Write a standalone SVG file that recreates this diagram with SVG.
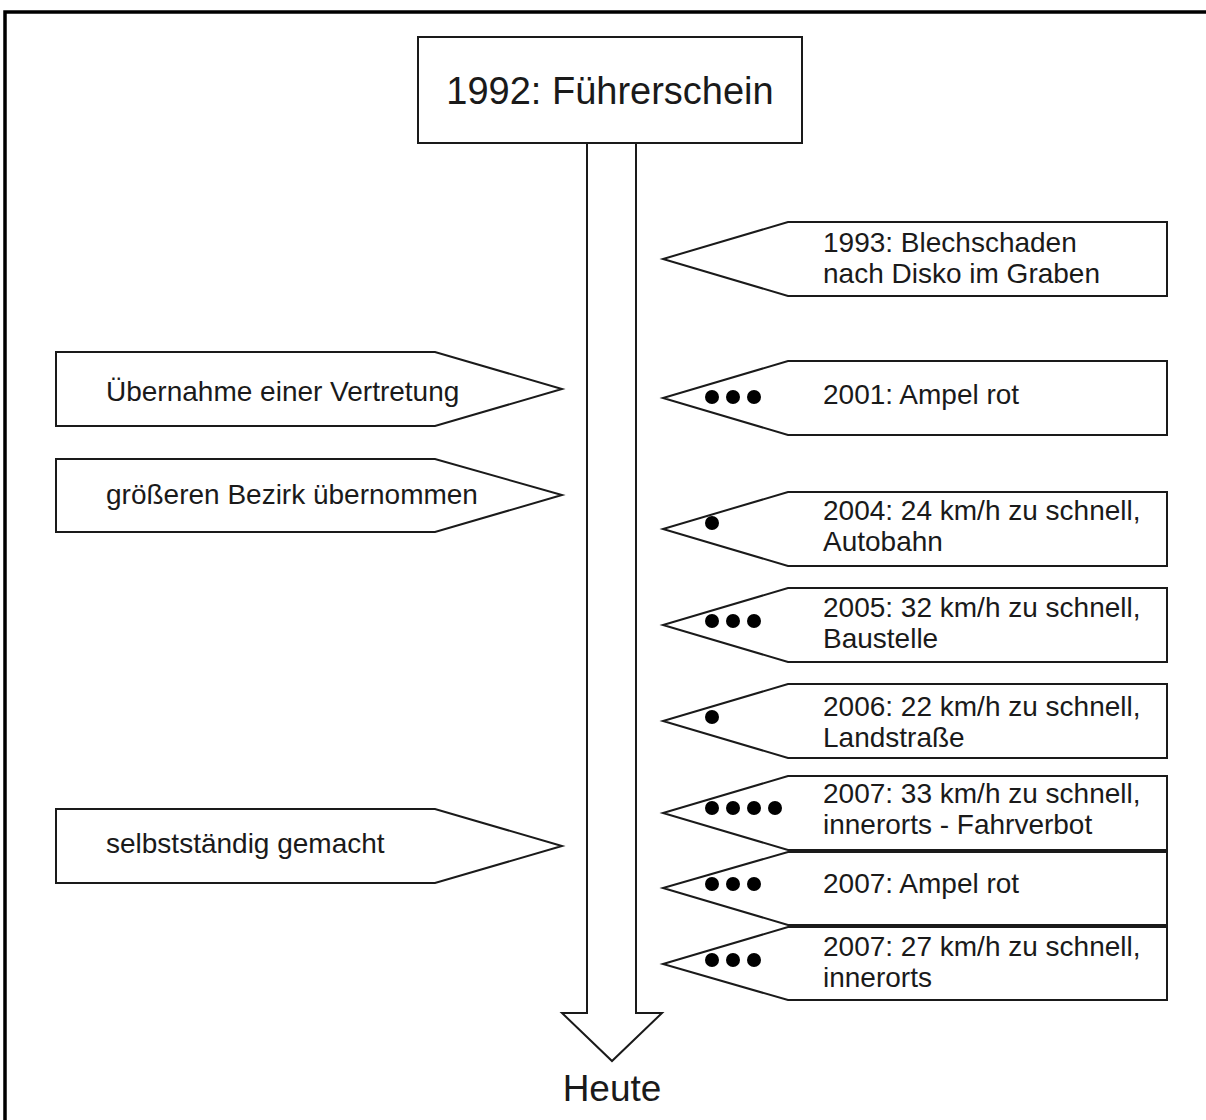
<svg xmlns="http://www.w3.org/2000/svg" width="1206" height="1120" viewBox="0 0 1206 1120">
<style>
.s{fill:#fff;stroke:#1a1a1a;stroke-width:2}
.t{font-family:"Liberation Sans",Arial,sans-serif;font-size:28px;fill:#1a1a1a}
.d{fill:#000}
</style>
<rect x="0" y="0" width="1206" height="1120" fill="#fff"/>
<rect x="5" y="12" width="1215" height="1130" fill="none" stroke="#000" stroke-width="3.5"/>
<g id="timeline">
<path class="s" d="M587,143 L587,1013 L562,1013 L612,1061 L662,1013 L636,1013 L636,143"/>
<text x="612" y="1101" text-anchor="middle" class="t" style="font-size:37px">Heute</text>
</g>
<g id="start">
<rect class="s" x="418" y="37" width="384" height="106"/>
<text x="610" y="104" text-anchor="middle" class="t" style="font-size:38px">1992: Führerschein</text>
</g>
<g id="l1">
<path class="s" d="M56,352 L435,352 L562,389 L435,426 L56,426 Z"/>
<text x="106" y="401" class="t">Übernahme einer Vertretung</text>
</g>
<g id="l2">
<path class="s" d="M56,459 L435,459 L562,495 L435,532 L56,532 Z"/>
<text x="106" y="504" class="t">größeren Bezirk übernommen</text>
</g>
<g id="l3">
<path class="s" d="M56,809 L435,809 L562,846 L435,883 L56,883 Z"/>
<text x="106" y="853" class="t">selbstständig gemacht</text>
</g>
<g id="r1">
<path class="s" d="M1167,222 L788,222 L663,259 L788,296 L1167,296 Z"/>
<text x="823" y="252" class="t">1993: Blechschaden</text>
<text x="823" y="283" class="t">nach Disko im Graben</text>
</g>
<g id="r2">
<path class="s" d="M1167,361 L788,361 L663,398 L788,435 L1167,435 Z"/>
<circle class="d" cx="712" cy="397" r="7"/><circle class="d" cx="733" cy="397" r="7"/><circle class="d" cx="754" cy="397" r="7"/>
<text x="823" y="404" class="t">2001: Ampel rot</text>
</g>
<g id="r3">
<path class="s" d="M1167,492 L788,492 L663,529 L788,566 L1167,566 Z"/>
<circle class="d" cx="712" cy="523" r="7"/>
<text x="823" y="520" class="t">2004: 24 km/h zu schnell,</text>
<text x="823" y="551" class="t">Autobahn</text>
</g>
<g id="r4">
<path class="s" d="M1167,588 L788,588 L663,625 L788,662 L1167,662 Z"/>
<circle class="d" cx="712" cy="621" r="7"/><circle class="d" cx="733" cy="621" r="7"/><circle class="d" cx="754" cy="621" r="7"/>
<text x="823" y="617" class="t">2005: 32 km/h zu schnell,</text>
<text x="823" y="648" class="t">Baustelle</text>
</g>
<g id="r5">
<path class="s" d="M1167,684 L788,684 L663,721 L788,758 L1167,758 Z"/>
<circle class="d" cx="712" cy="717" r="7"/>
<text x="823" y="716" class="t">2006: 22 km/h zu schnell,</text>
<text x="823" y="747" class="t">Landstraße</text>
</g>
<g id="r6">
<path class="s" d="M1167,776 L788,776 L663,813 L788,850 L1167,850 Z"/>
<circle class="d" cx="712" cy="808" r="7"/><circle class="d" cx="733" cy="808" r="7"/><circle class="d" cx="754" cy="808" r="7"/><circle class="d" cx="775" cy="808" r="7"/>
<text x="823" y="803" class="t">2007: 33 km/h zu schnell,</text>
<text x="823" y="834" class="t">innerorts - Fahrverbot</text>
</g>
<g id="r7">
<path class="s" d="M1167,852 L788,852 L663,888 L788,925 L1167,925 Z"/>
<circle class="d" cx="712" cy="884" r="7"/><circle class="d" cx="733" cy="884" r="7"/><circle class="d" cx="754" cy="884" r="7"/>
<text x="823" y="893" class="t">2007: Ampel rot</text>
</g>
<g id="r8">
<path class="s" d="M1167,927 L788,927 L663,964 L788,1000 L1167,1000 Z"/>
<circle class="d" cx="712" cy="960" r="7"/><circle class="d" cx="733" cy="960" r="7"/><circle class="d" cx="754" cy="960" r="7"/>
<text x="823" y="956" class="t">2007: 27 km/h zu schnell,</text>
<text x="823" y="987" class="t">innerorts</text>
</g>
<g id="connectors"></g>
</svg>
